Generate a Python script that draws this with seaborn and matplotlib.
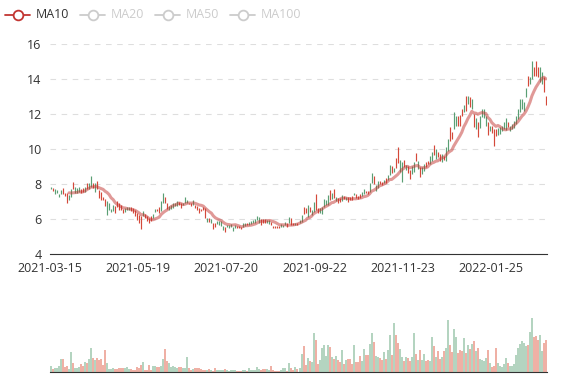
import numpy as np
import pandas as pd
import matplotlib
matplotlib.use('Agg')
import matplotlib.pyplot as plt
import seaborn as sns
from matplotlib.lines import Line2D

# daily price range (low / high)
low = [7.72, 7.60, 7.45, 7.51, 7.23, 7.45, 7.45, 7.32, 6.91, 7.06,
       7.28, 7.74, 7.51, 7.51, 7.57, 7.51, 7.57, 7.57, 7.74, 7.74,
       7.85, 7.79, 7.57, 7.70, 7.19, 7.09, 7.09, 6.72, 6.25, 6.53,
       6.38, 6.43, 6.34, 6.68, 6.53, 6.49, 6.34, 6.38, 6.49, 6.53,
       6.43, 6.34, 6.15, 5.96, 5.77, 5.43, 6.15, 6.06, 5.87, 5.77,
       5.87, 6.06, 6.42, 6.43, 6.34, 6.43, 6.91, 6.91, 6.57, 6.53,
       6.57, 6.62, 6.72, 6.75, 6.81, 6.62, 6.79, 6.91, 6.91, 6.83,
       6.75, 6.81, 6.62, 6.53, 6.34, 6.43, 6.49, 6.06, 5.81, 5.81,
       5.77, 5.43, 5.55, 5.74, 5.68, 5.62, 5.36, 5.25, 5.55, 5.49,
       5.56, 5.33, 5.47, 5.50, 5.47, 5.41, 5.56, 5.60, 5.64, 5.68,
       5.71, 5.79, 5.75, 5.94, 5.75, 5.66, 5.75, 5.79, 5.75, 5.71,
       5.66, 5.50, 5.50, 5.47, 5.47, 5.52, 5.56, 5.66, 5.56, 5.75,
       5.66, 5.64, 5.64, 5.66, 5.75, 5.85, 6.29, 6.36, 6.13, 6.42,
       6.23, 6.42, 6.51, 6.36, 6.32, 6.29, 6.70, 6.80, 6.80, 7.09,
       7.12, 7.18, 7.05, 6.93, 6.99, 7.05, 7.12, 7.09, 6.99, 7.09,
       7.10, 7.39, 7.20, 7.15, 7.20, 7.30, 7.43, 7.47, 7.43, 7.56,
       8.04, 8.00, 7.62, 7.75, 8.00, 7.94, 8.04, 8.04, 8.23, 8.51,
       8.65, 8.70, 8.90, 9.18, 8.70, 8.13, 8.99, 8.80, 8.61, 8.27,
       8.57, 8.67, 9.33, 8.86, 8.38, 8.57, 8.76, 8.95, 9.14, 9.14,
       9.33, 9.66, 9.43, 9.52, 9.33, 9.24, 9.39, 9.33, 9.90, 10.48,
       10.57, 11.14, 11.33, 11.30, 11.33, 11.87, 12.13, 12.19, 12.57, 12.38,
       12.29, 11.24, 11.14, 10.67, 11.18, 11.81, 11.75, 11.30, 10.80, 11.05,
       10.91, 10.15, 10.76, 10.80, 10.86, 11.05, 11.14, 11.10, 11.24, 11.05,
       11.14, 11.18, 11.43, 11.71, 12.10, 12.29, 12.19, 12.95, 13.62, 13.71,
       14.00, 14.19, 14.19, 14.10, 13.81, 13.71, 13.24, 12.51]
high = [7.85, 7.79, 7.72, 7.66, 7.45, 7.64, 7.75, 7.51, 7.47, 7.36,
        7.74, 8.09, 7.81, 7.75, 7.81, 7.70, 7.75, 7.81, 8.04, 8.04,
        8.45, 8.08, 8.04, 8.19, 7.66, 7.57, 7.28, 7.13, 7.00, 6.90,
        6.57, 6.81, 6.75, 7.00, 6.91, 6.81, 6.57, 6.62, 6.68, 6.68,
        6.68, 6.62, 6.53, 6.34, 6.25, 6.15, 6.43, 6.30, 6.15, 6.06,
        6.15, 6.30, 6.57, 6.60, 6.68, 7.00, 7.47, 7.28, 6.91, 6.72,
        6.81, 6.91, 6.91, 7.00, 6.96, 6.94, 6.94, 7.25, 7.06, 6.94,
        6.91, 7.06, 6.81, 6.75, 6.62, 6.57, 6.68, 6.62, 6.06, 6.06,
        6.00, 5.77, 5.77, 5.87, 5.87, 5.87, 5.58, 5.55, 5.68, 5.68,
        5.71, 5.56, 5.66, 5.60, 5.60, 5.56, 5.79, 5.75, 5.79, 5.83,
        5.90, 5.94, 5.98, 6.17, 6.10, 5.98, 5.98, 5.98, 5.94, 5.94,
        5.85, 5.60, 5.60, 5.60, 5.60, 5.71, 5.66, 5.85, 5.79, 6.13,
        6.04, 5.79, 5.75, 5.79, 5.94, 6.23, 6.67, 6.61, 6.80, 6.70,
        6.51, 6.99, 7.43, 6.61, 6.61, 6.70, 7.12, 7.09, 7.37, 7.66,
        7.47, 7.70, 7.28, 7.18, 7.18, 7.37, 7.31, 7.24, 7.28, 7.24,
        7.30, 7.50, 7.40, 7.30, 7.40, 7.55, 7.70, 7.62, 7.62, 8.08,
        8.61, 8.46, 7.94, 8.19, 8.19, 8.13, 8.23, 8.32, 8.51, 9.09,
        9.03, 8.90, 9.47, 10.13, 9.37, 9.28, 9.37, 9.09, 9.03, 8.80,
        9.05, 9.24, 9.77, 9.33, 8.95, 8.95, 9.14, 9.24, 9.33, 9.62,
        9.85, 10.23, 10.00, 9.81, 9.71, 9.71, 9.62, 10.10, 10.57, 11.24,
        10.95, 12.10, 11.90, 11.87, 11.94, 12.29, 12.51, 13.05, 13.05, 12.95,
        12.86, 12.00, 11.75, 11.52, 11.87, 12.29, 12.29, 11.87, 11.56, 11.33,
        11.30, 11.14, 11.14, 11.18, 11.24, 11.33, 11.52, 11.75, 11.52, 11.33,
        11.43, 11.62, 11.87, 12.29, 12.86, 12.86, 12.67, 13.47, 14.19, 14.10,
        15.05, 14.67, 15.05, 14.67, 14.67, 14.38, 14.10, 13.05]
# G = rising day, R = falling day
trend = ("GRGGGGRRRG" "GRGGGRRGRG" "GRGRRRRRGG" "GGRRRRRGGG" "RRRRRRGRRR"
         "RGGRRGGRRG" "GGGGRRGGGR" "RGRRRRRRGR" "GRRGGGGRGG" "GGGRRRGGRG"
         "GGGGGRRRGG" "RRRRRGGGRG" "RRGRGGRRGR" "GGRRGGGGGR" "GRGRRGRGRR"
         "RGRRRGGRRG" "GRGGRRGRGG" "RGRRGGRGRR" "GGRGRGGRRG" "GRGRRGRGGR"
         "RGGRRRGRGR" "GRGRGGGGRG" "RRRGGGGGRG" "GGGGGGGGRG" "GRRRGGRR")
volume = [5.7, 3.3, 4, 4, 6.3, 13, 13, 5, 6.3, 3.3,
          20, 9, 3.7, 3.7, 5, 8.3, 5.7, 9.7, 9, 13.3,
          24, 14.3, 12.3, 13.7, 12.3, 12.7, 7.3, 22.3, 9, 3,
          3, 4.3, 3, 3, 4.3, 4, 3.7, 4, 5, 3,
          3, 2.3, 1.7, 5, 3.7, 7, 10.3, 2.3, 2.3, 7,
          2.3, 5.7, 5.7, 5, 5, 6.3, 13, 23, 10.7, 9,
          5, 5.7, 5, 4.3, 5, 5, 4, 4, 15, 4,
          2.3, 3, 3.7, 4, 4, 3, 2.3, 2.3, 2.3, 3,
          2.3, 1, 4, 2.3, 1.7, 2.3, 1.7, 3, 1.7, 1,
          1.7, 2.3, 2.3, 1, 1, 1, 1.7, 2.3, 1, 3.7,
          1.7, 2.3, 2.3, 5, 3, 2.3, 3, 3, 3, 2.3,
          6.3, 2.3, 1, 1, 1, 2.3, 4, 4, 1, 9,
          4, 2.3, 5, 3, 4, 18.3, 25.7, 7.3, 14, 11.3,
          9.7, 39, 32.3, 8.3, 12.3, 24, 27.3, 16.3, 27.3, 25,
          15, 13.3, 15.7, 11.7, 9.7, 22.3, 8.3, 12.3, 13.3, 13,
          8, 27.3, 10.3, 9.7, 15.7, 10.7, 23, 17, 17, 28.3,
          39, 30.3, 15.7, 15, 14.3, 12.3, 19.7, 13, 22.3, 37.3,
          17.3, 49, 37.3, 29, 23, 15, 11, 15, 14, 10.7,
          14.7, 39, 18.3, 11.7, 22.3, 11.7, 18, 10.7, 11.7, 11,
          34.7, 25.7, 14.7, 20.7, 13, 15, 20.7, 24, 52.3, 27.3,
          19.7, 43.3, 34.7, 19, 22.3, 20.7, 34, 19, 27.3, 23,
          28.3, 30.7, 20.7, 24, 13, 11.7, 11, 14, 21.7, 9,
          5, 5.7, 24, 9, 5.7, 5, 8.3, 14, 9, 6.3,
          6.3, 8.3, 17.3, 24, 28.3, 30.7, 29, 26.3, 27.3, 39.7,
          54.3, 34.7, 35.7, 31.7, 37.3, 21.3, 29, 31.7]
tick_labels = ['2021-03-15', '2021-05-19', '2021-07-20', '2021-09-22',
               '2021-11-23', '2022-01-25']
tick_step = 44
legend_names = ['MA10', 'MA20', 'MA50', 'MA100']

df = pd.DataFrame({'low': low, 'high': high, 'volume': volume,
                   'up': [c == 'G' for c in trend]})
df['idx'] = np.arange(len(df))
df['open'] = np.where(df['up'], df['low'], df['high'])
df['close'] = np.where(df['up'], df['high'], df['low'])
df['ma10'] = df['close'].rolling(10).mean()
n = len(df)

sns.set_style('white')
plt.rcParams['font.family'] = ['Open Sans', 'DejaVu Sans']

W, H = 577, 380
fig = plt.figure(figsize=(W / 100, H / 100), dpi=100)
ax = fig.add_axes([50 / W, 1 - 254 / H, 497 / W, 210 / H])
axv = fig.add_axes([50 / W, 1 - 372 / H, 497 / W, 72 / H])

up_col, down_col = '#5a9f74', '#d4493a'
cols = np.where(df['up'], up_col, down_col)

# candles (thin, like the 2px-wide originals)
ax.vlines(df['idx'], df['low'], df['high'], colors=cols, lw=0.85, zorder=3)
sns.lineplot(data=df, x='idx', y='ma10', ax=ax, color='#c23531', alpha=0.5,
             lw=2.2, zorder=4)

ax.set_xlim(-0.5, n - 0.5)
ax.set_ylim(4, 16)
ax.set_yticks(range(4, 17, 2))
ax.yaxis.grid(True, ls=(0, (5, 5)), color='#dedede', lw=0.8)
ax.set_xticks([k * tick_step - 0.5 for k in range(len(tick_labels))])
ax.set_xticklabels(tick_labels)
ax.set_xlabel('')
ax.set_ylabel('')
ax.tick_params(axis='x', length=3.6, width=0.8, color='#333333', pad=2.5,
               labelsize=9, labelcolor='#333333')
ax.tick_params(axis='y', length=0, pad=6, labelsize=9, labelcolor='#333333')
for s in ['top', 'right', 'left']:
    ax.spines[s].set_visible(False)
ax.spines['bottom'].set_color('#333333')
ax.spines['bottom'].set_linewidth(0.8)

# volume bars, drawn as 1.6px-wide strokes
vcols = np.where(df['up'], '#a6ccb4', '#eca194')
axv.vlines(df['idx'], 0, df['volume'], colors=vcols, lw=1.2)
axv.set_xlim(-0.5, n - 0.5)
axv.set_ylim(0, 72)
axv.set_xticks([])
axv.set_yticks([])
for s in ['top', 'right', 'left']:
    axv.spines[s].set_visible(False)
axv.spines['bottom'].set_color('#333333')
axv.spines['bottom'].set_linewidth(0.8)

# legend
y = 1 - 15 / H
for x0, name in zip([5, 80, 155, 230], legend_names):
    active = name == 'MA10'
    c = '#c23531' if active else '#cccccc'
    fig.add_artist(Line2D([x0 / W, (x0 + 25) / W], [y, y], color=c, lw=1.3))
    fig.add_artist(Line2D([(x0 + 12.5) / W], [y], marker='o', ms=7, mfc='white',
                          mec=c, mew=1.3, lw=0))
    fig.text((x0 + 31) / W, y, name, color='#333333' if active else '#cccccc',
             va='center', ha='left', fontsize=9)

fig.savefig('out.png', dpi=100)
